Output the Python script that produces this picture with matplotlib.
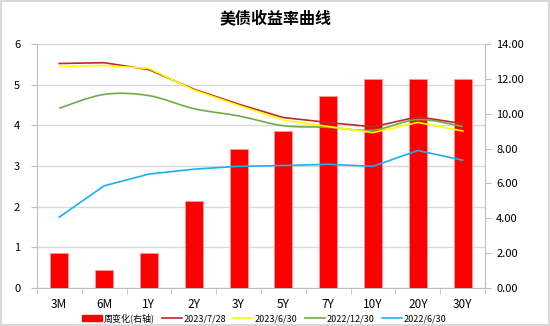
import matplotlib
matplotlib.use("Agg")
import matplotlib.pyplot as plt
from matplotlib.path import Path
from matplotlib.patches import PathPatch, Rectangle
from matplotlib.lines import Line2D
import numpy as np

plt.rcParams['font.family'] = ['Noto Sans CJK SC', 'DejaVu Sans']

tenors = ['3M', '6M', '1Y', '2Y', '3Y', '5Y', '7Y', '10Y', '20Y', '30Y']
weekly_change = [2, 1, 2, 5, 8, 9, 11, 12, 12, 12]  # 周变化(右轴)
y_20230728 = [5.52, 5.54, 5.37, 4.89, 4.52, 4.19, 4.07, 3.96, 4.21, 4.04]
y_20230630 = [5.45, 5.47, 5.40, 4.87, 4.49, 4.13, 3.97, 3.82, 4.07, 3.86]
y_20221230 = [4.42, 4.76, 4.73, 4.41, 4.23, 3.99, 3.95, 3.88, 4.14, 3.97]
y_20220630 = [1.74, 2.51, 2.80, 2.92, 2.99, 3.01, 3.04, 2.99, 3.38, 3.14]

labels = ['2023/7/28', '2023/6/30', '2022/12/30', '2022/6/30']
colors = ['#C0272D', '#FFFF00', '#70AD47', '#1CB0EC']
series = [y_20230728, y_20230630, y_20221230, y_20220630]


def smooth_path(xs, ys):
    # catmull-rom style bezier, like excel's smoothed line
    pts = np.column_stack([xs, ys])
    verts = [tuple(pts[0])]
    codes = [Path.MOVETO]
    n = len(pts)
    for i in range(n - 1):
        p0 = pts[max(i - 1, 0)]
        p1 = pts[i]
        p2 = pts[i + 1]
        p3 = pts[min(i + 2, n - 1)]
        c1 = p1 + (p2 - p0) / 6.0
        c2 = p2 - (p3 - p1) / 6.0
        verts += [tuple(c1), tuple(c2), tuple(p2)]
        codes += [Path.CURVE4] * 3
    return Path(verts, codes)


fig = plt.figure(figsize=(5.5, 3.26), dpi=100)
fig.patch.set_edgecolor('#D9D9D9')
fig.patch.set_linewidth(1.5)

ax = fig.add_axes([0.067, 0.117, 0.815, 0.748])
x = np.arange(len(tenors))

# left axis: grid only
ax.set_ylim(0, 6)
ax.set_yticks(range(0, 7))
ax.yaxis.grid(True, color='#D9D9D9', linewidth=1)
ax.set_axisbelow(True)
ax.set_xlim(-0.5, len(tenors) - 0.5)
ax.set_xticks(x)
ax.set_xticklabels(tenors, fontsize=8.5)
ax.set_xticks(np.arange(-0.5, len(tenors)), minor=True)
ax.tick_params(axis='x', which='major', length=0, pad=7)
ax.tick_params(axis='x', which='minor', length=4, color='#BFBFBF')
ax.tick_params(axis='y', length=4, color='#BFBFBF', labelsize=8, pad=8)
for s in ['top', 'right']:
    ax.spines[s].set_visible(False)
ax.spines['left'].set_color('#BFBFBF')
ax.spines['bottom'].set_color('#BFBFBF')

# right axis: bars
ax2 = ax.twinx()
ax2.bar(x, weekly_change, width=0.4, color='#FF0000', edgecolor='#FF9999', linewidth=0.6)
ax2.set_ylim(0, 14)
ax2.set_yticks(range(0, 15, 2))
ax2.set_yticklabels(['%.2f' % v for v in range(0, 15, 2)])
ax2.tick_params(axis='y', length=4, color='#BFBFBF', labelsize=8, pad=4)
for s in ['top', 'left', 'bottom']:
    ax2.spines[s].set_visible(False)
ax2.spines['right'].set_color('#BFBFBF')

# lines on top, left scale
ax3 = ax.twinx()
ax3.set_ylim(0, 6)
ax3.set_xlim(-0.5, len(tenors) - 0.5)
ax3.axis('off')
for ys, c in zip(series, colors):
    if c == '#70AD47':
        ax3.add_patch(PathPatch(smooth_path(x, ys), facecolor='none', edgecolor=c, linewidth=1.2))
    else:
        ax3.plot(x, ys, color=c, linewidth=1.2)

fig.text(0.5, 0.945, '美债收益率曲线', ha='center', va='center', fontsize=11.5, fontweight='bold')

handles = [Rectangle((0, 0), 1, 1, color='#FF0000')]
handles += [Line2D([], [], color=c, linewidth=1.2) for c in colors]
fig.legend(handles, ['周变化(右轴)'] + labels, loc='center', bbox_to_anchor=(0.48, 0.024),
           ncol=5, frameon=False, fontsize=6.5, handlelength=2.2, handletextpad=0.2,
           columnspacing=0.8, handleheight=0.7, borderpad=0.2)

fig.savefig('out.png', dpi=100)
